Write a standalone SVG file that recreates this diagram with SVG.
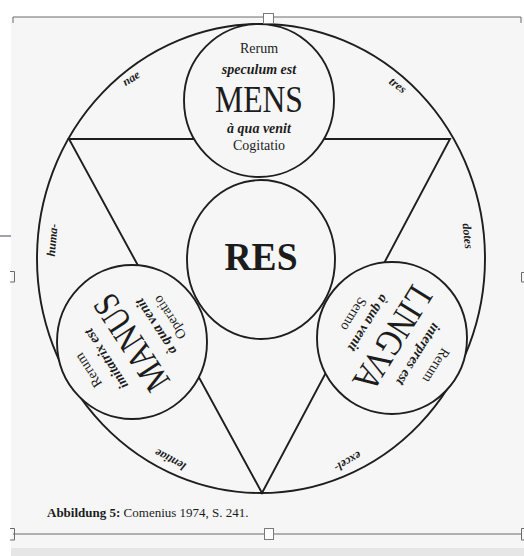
<svg xmlns="http://www.w3.org/2000/svg" width="524" height="556" viewBox="0 0 524 556">
<style>
.ln{fill:none;stroke:#1e1e1e;stroke-width:1.9}
.cl{fill:#f6f6f6;stroke:#1e1e1e;stroke-width:1.9}
.s{font-family:"Liberation Serif","Times New Roman",serif;fill:#1c1c1c;text-anchor:middle}
.r{font-size:14px}
.i{font-size:14px;font-style:italic;font-weight:bold}
.big{font-size:37px}
.o{font-size:12px;font-style:italic;font-weight:bold}
.fr{fill:none;stroke:#6a6a6a;stroke-width:1}
.h{fill:#fff;stroke:#7a7a7a;stroke-width:1}
</style>
<rect width="524" height="556" fill="#fff"/>
<rect x="11" y="17" width="513" height="531" fill="#f6f6f6"/>
<rect x="11" y="548" width="513" height="8" fill="#e6e6e6"/>
<rect x="0" y="235" width="11" height="2" fill="#9ea3aa"/>

<g id="ring"><ellipse class="ln" cx="261" cy="258.5" rx="224" ry="234.5"/></g>

<g id="connectors"><polygon class="ln" points="69,139 450,139 262,493"/></g>

<g id="res">
<ellipse class="cl" cx="261" cy="259.5" rx="74" ry="79.5"/>
<text class="s" x="261" y="270" font-size="40" font-weight="bold" textLength="73" lengthAdjust="spacingAndGlyphs">RES</text>
</g>

<g id="mens">
<ellipse class="cl" cx="259" cy="100.5" rx="75" ry="76.5"/>
<g transform="translate(259,100.5)">
<text class="s r" y="-47.5">Rerum</text>
<text class="s i" y="-26.5">speculum est</text>
<text class="s big" y="11.5" textLength="88" lengthAdjust="spacingAndGlyphs">MENS</text>
<text class="s i" y="32.5">à qua venit</text>
<text class="s r" y="49.5">Cogitatio</text>
</g>
</g>

<g id="manus">
<ellipse class="cl" cx="132" cy="342" rx="75" ry="77"/>
<g transform="translate(132,342) rotate(237)">
<text class="s r" y="-47.5">Rerum</text>
<text class="s i" y="-26.5">imitatrix est</text>
<text class="s big" y="11.5" textLength="108" lengthAdjust="spacingAndGlyphs">MANUS</text>
<text class="s i" y="32.5">à qua venit</text>
<text class="s r" y="49.5">Operatio</text>
</g>
</g>

<g id="lingva">
<ellipse class="cl" cx="392" cy="338" rx="75" ry="76"/>
<g transform="translate(392,338) rotate(122)">
<text class="s r" y="-47.5">Rerum</text>
<text class="s i" y="-26.5">interpres est</text>
<text class="s big" y="11.5" textLength="116" lengthAdjust="spacingAndGlyphs">LINGVA</text>
<text class="s i" y="32.5">à qua venit</text>
<text class="s r" y="49.5">Sermo</text>
</g>
</g>

<g id="ring-words">
<text class="s o" transform="translate(398,85) rotate(37)" dy="0.35em">tres</text>
<text class="s o" transform="translate(468,236) rotate(84)" dy="0.35em">dotes</text>
<text class="s o" transform="translate(348,462) rotate(150)" dy="0.35em">excel-</text>
<text class="s o" transform="translate(170,460) rotate(208)" dy="0.35em">lentiae</text>
<text class="s o" transform="translate(52,240) rotate(-85)" dy="0.35em">huma-</text>
<text class="s o" transform="translate(131,78) rotate(-32)" dy="0.35em">nae</text>
</g>

<g id="caption">
<text x="47" y="517" font-family="Liberation Serif, Times New Roman, serif" font-size="13" fill="#1c1c1c"><tspan font-weight="bold">Abbildung 5:</tspan> Comenius 1974, S. 241.</text>
</g>

<g id="frame">
<path class="fr" d="M13,17 H521 M13,17 V23 M521,17 V23 M13,534 H521"/>
<rect class="h" x="263.5" y="13.5" width="10" height="10"/>
<rect class="h" x="264.5" y="528.5" width="9" height="11"/>
<path class="fr" d="M10,528.5 H14.5 V540 H10 M524,528.5 H521.5 V540 H524 M10,271.5 H14.5 V282 H10 M524,272.5 H521.5 V282 H524"/>
</g>
</svg>
